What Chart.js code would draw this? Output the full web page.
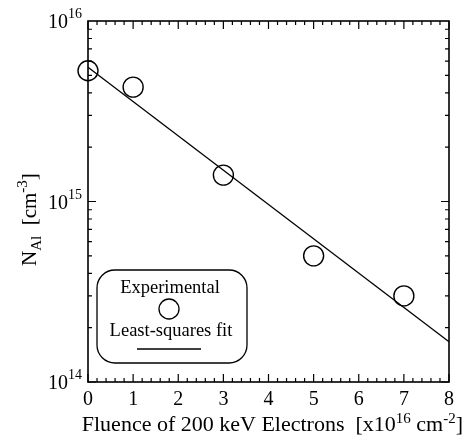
<!DOCTYPE html>
<html>
<head>
<meta charset="utf-8">
<script src="https://cdn.jsdelivr.net/npm/chart.js@4.4.0/dist/chart.umd.min.js"></script>
<style>
  html, body { margin: 0; padding: 0; background: #fff; }
  #wrap { width: 468px; height: 437px; }
</style>
</head>
<body>
<div id="wrap"><canvas id="c" width="468" height="437"></canvas></div>
<script>
// data
const fluence = [0, 1, 3, 5, 7];
const nAl = [5.3e15, 4.3e15, 1.4e15, 5.0e14, 3.0e14];
const fitX = [0, 8];
const fitY = [5.55e15, 1.67e14];
const xTicks = [0, 1, 2, 3, 4, 5, 6, 7, 8];
const yDecades = [14, 15, 16];

const SERIF = '"Liberation Serif", "DejaVu Serif", serif';

// draws a run of [text, size, dy] pieces starting at x0
function drawRun(ctx, parts, x0, y0) {
  let cx = x0;
  parts.forEach(p => {
    ctx.font = p[1] + 'px ' + SERIF;
    ctx.fillText(p[0], cx, y0 + p[2]);
    cx += ctx.measureText(p[0]).width;
  });
  return cx;
}
function runWidth(ctx, parts) {
  let w = 0;
  parts.forEach(p => { ctx.font = p[1] + 'px ' + SERIF; w += ctx.measureText(p[0]).width; });
  return w;
}

// frame, inward ticks, y labels, titles, legend box
const decor = {
  id: 'decor',
  afterDraw(chart) {
    const { ctx, chartArea: a, scales: { x, y } } = chart;
    ctx.save();
    ctx.strokeStyle = '#000';
    ctx.fillStyle = '#000';
    ctx.lineWidth = 1.6;
    ctx.strokeRect(a.left, a.top, a.right - a.left, a.bottom - a.top);

    ctx.lineWidth = 1.2;
    ctx.beginPath();
    for (let i = 0; i <= 40; i++) {
      const px = x.getPixelForValue(i / 5);
      const len = i % 5 === 0 ? 8 : 4;
      ctx.moveTo(px, a.bottom); ctx.lineTo(px, a.bottom - len);
      ctx.moveTo(px, a.top); ctx.lineTo(px, a.top + len);
    }
    for (let d = 14; d < 16; d++) {
      for (let m = 1; m <= 9; m++) {
        const py = y.getPixelForValue(m * Math.pow(10, d));
        const len = m === 1 ? 8 : 4;
        ctx.moveTo(a.left, py); ctx.lineTo(a.left + len, py);
        ctx.moveTo(a.right, py); ctx.lineTo(a.right - len, py);
      }
    }
    ctx.stroke();

    ctx.textBaseline = 'alphabetic';
    ctx.textAlign = 'left';

    // y labels 10^n
    yDecades.forEach(d => {
      const py = y.getPixelForValue(Math.pow(10, d));
      const parts = [['10', 20, 0], [String(d), 14, -10]];
      const w = runWidth(ctx, parts);
      drawRun(ctx, parts, a.left - 6 - w, py + 7);
    });

    // x title
    const xt = [
      ['Fluence of 200 keV Electrons  [x10', 22, 0],
      ['16', 15, -8],
      [' cm', 22, 0],
      ['-2', 15, -8],
      [']', 22, 0]
    ];
    drawRun(ctx, xt, 463 - runWidth(ctx, xt), 431);

    // y title (rotated)
    ctx.save();
    ctx.translate(36, 266);
    ctx.rotate(-Math.PI / 2);
    drawRun(ctx, [
      ['N', 21, 0],
      ['Al', 15, 5],
      ['  [cm', 21, 0],
      ['-3', 15, -9],
      [']', 21, 0]
    ], 0, 0);
    ctx.restore();

    // legend box
    ctx.lineWidth = 1.3;
    ctx.beginPath();
    ctx.roundRect(97, 270, 150, 93, 18);
    ctx.stroke();
    ctx.font = '18.5px ' + SERIF;
    ctx.textAlign = 'center';
    ctx.fillText('Experimental', 170, 293);
    ctx.beginPath();
    ctx.arc(169, 309, 10, 0, Math.PI * 2);
    ctx.stroke();
    ctx.fillText('Least-squares fit', 171, 336);
    ctx.beginPath();
    ctx.moveTo(137, 349); ctx.lineTo(201, 349);
    ctx.stroke();
    ctx.restore();
  }
};

new Chart(document.getElementById('c'), {
  type: 'scatter',
  data: {
    datasets: [
      {
        label: 'Experimental',
        data: fluence.map((f, i) => ({ x: f, y: nAl[i] })),
        pointStyle: 'circle',
        pointRadius: 10,
        pointHoverRadius: 10,
        pointBackgroundColor: 'rgba(0,0,0,0)',
        pointBorderColor: '#000',
        pointBorderWidth: 1.4,
        showLine: false
      },
      {
        label: 'Least-squares fit',
        data: fitX.map((f, i) => ({ x: f, y: fitY[i] })),
        showLine: true,
        borderColor: '#000',
        borderWidth: 1.3,
        pointRadius: 0,
        fill: false
      }
    ]
  },
  options: {
    responsive: false,
    animation: false,
    clip: false,
    layout: { padding: { top: 21, right: 19, left: 0, bottom: 0 } },
    plugins: { legend: { display: false }, tooltip: { enabled: false } },
    scales: {
      x: {
        type: 'linear',
        min: 0, max: 8,
        afterBuildTicks: s => { s.ticks = xTicks.map(v => ({ value: v })); },
        afterFit: s => { s.height = 55; },
        grid: { display: false, drawTicks: false },
        border: { display: false },
        ticks: { color: '#000', font: { family: SERIF, size: 20 }, padding: 6, maxRotation: 0 }
      },
      y: {
        type: 'logarithmic',
        min: 1e14, max: 1e16,
        afterFit: s => { s.width = 88; },
        grid: { display: false, drawTicks: false },
        border: { display: false },
        ticks: { display: false }
      }
    }
  },
  plugins: [decor]
});
</script>
</body>
</html>
